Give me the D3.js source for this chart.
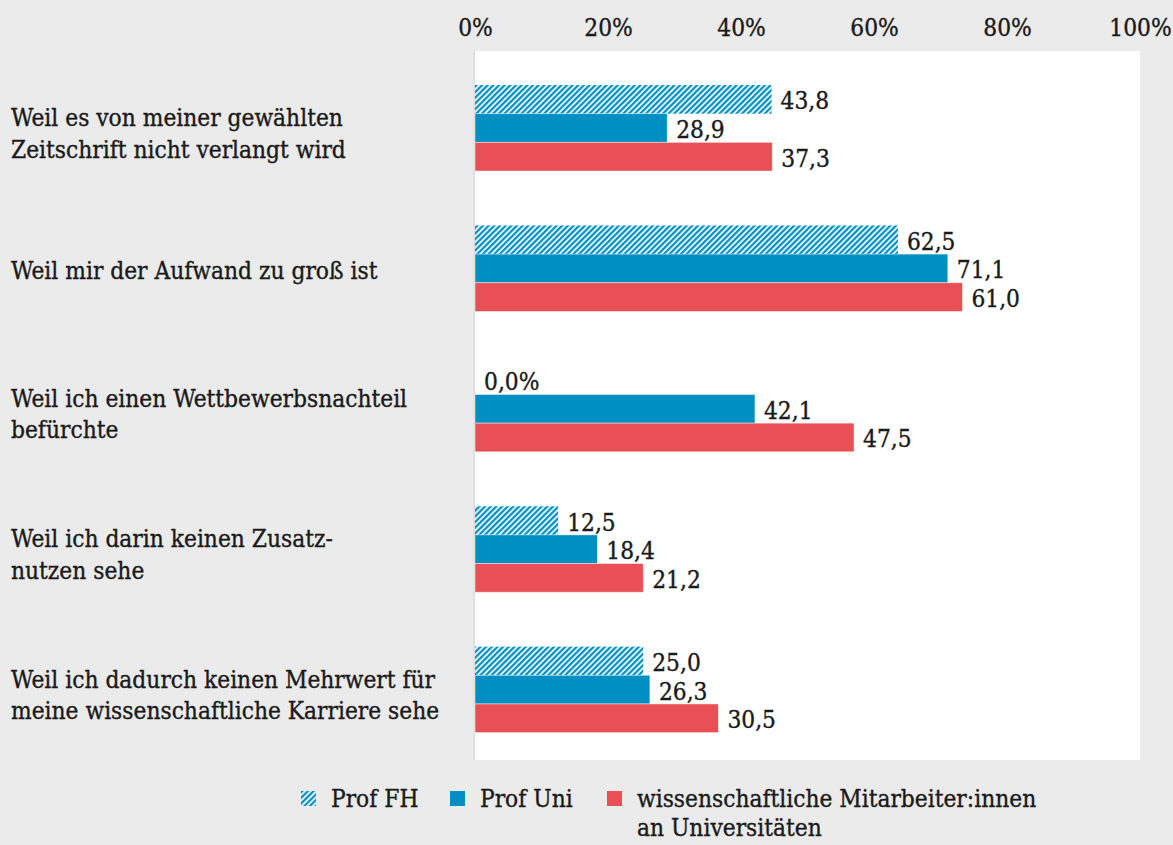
<!DOCTYPE html>
<html>
<head>
<meta charset="utf-8">
<script src="https://cdn.jsdelivr.net/npm/d3@7"></script>
<style>
  html, body { margin: 0; padding: 0; background: #ebebeb; }
  svg { display: block; }
  text { font-family: "DejaVu Serif Condensed", "DejaVu Serif", serif; font-stretch: condensed; fill: #1a1a1a; stroke: #1a1a1a; stroke-width: 0.35px; }
</style>
</head>
<body>
<svg id="chart" width="1173" height="845"></svg>
<script>
// ---- data ----
const categories = [
  ["Weil es von meiner gewählten", "Zeitschrift nicht verlangt wird"],
  ["Weil mir der Aufwand zu groß ist"],
  ["Weil ich einen Wettbewerbsnachteil", "befürchte"],
  ["Weil ich darin keinen Zusatz-", "nutzen sehe"],
  ["Weil ich dadurch keinen Mehrwert für", "meine wissenschaftliche Karriere sehe"]
];
const seriesNames = ["Prof FH", "Prof Uni", "wissenschaftliche Mitarbeiter:innen|an Universitäten"];
// bar lengths as drawn in the picture (percent)
const profFH  = [44.6, 63.6, 0.0, 12.5, 25.3];
const profUni = [28.9, 71.1, 42.1, 18.4, 26.3];
const wiMi    = [44.7, 73.3, 57.0, 25.3, 36.6];
// value labels as printed
const profFHLabels  = ["43,8", "62,5", "0,0%", "12,5", "25,0"];
const profUniLabels = ["28,9", "71,1", "42,1", "18,4", "26,3"];
const wiMiLabels    = ["37,3", "61,0", "47,5", "21,2", "30,5"];
const tickValues = [0, 20, 40, 60, 80, 100];
const tickLabels = ["0%", "20%", "40%", "60%", "80%", "100%"];

// ---- layout ----
const W = 1173, H = 845;
const panel = { x0: 475, x1: 1140, y0: 51, y1: 760 };
const colors = { fhBlue: "#0090c4", uni: "#008fc2", red: "#e95056", bg: "#ebebeb" };

const svg = d3.select("#chart");
svg.append("rect").attr("width", W).attr("height", H).attr("fill", colors.bg);

// choose font size so the first category line is as wide as in the reference (~332px)
const probe = svg.append("text").style("font-size", "20px").text(categories[0][0]);
const pw = probe.node().getComputedTextLength();
probe.remove();
const fontSize = Math.max(18, Math.min(30, 20 * 332 / (pw || 332)));

const defs = svg.append("defs");
const pat = defs.append("pattern")
  .attr("id", "hatch").attr("patternUnits", "userSpaceOnUse")
  .attr("width", 4).attr("height", 4)
  .attr("patternTransform", "rotate(45)");
pat.append("rect").attr("width", 4).attr("height", 4).attr("fill", "#ffffff");
pat.append("rect").attr("width", 2.3).attr("height", 4).attr("fill", colors.fhBlue);

// panel
svg.append("rect")
  .attr("x", panel.x0).attr("y", panel.y0)
  .attr("width", panel.x1 - panel.x0).attr("height", panel.y1 - panel.y0)
  .attr("fill", "#ffffff");
svg.append("line")
  .attr("x1", panel.x0 - 0.75).attr("x2", panel.x0 - 0.75)
  .attr("y1", panel.y0).attr("y2", panel.y1)
  .attr("stroke", "#dcdcdc").attr("stroke-width", 1.5);

const x = d3.scaleLinear().domain([0, 100]).range([panel.x0, panel.x1]);
const y = d3.scaleBand().domain(d3.range(categories.length))
  .range([panel.y0, panel.y1]).paddingInner(0.3875).paddingOuter(0.2187).align(0.554);
const yi = d3.scaleBand().domain([0, 1, 2]).range([0, y.bandwidth()]);

// top axis
const axis = d3.axisTop(x).tickValues(tickValues)
  .tickFormat((d, i) => tickLabels[i]).tickSize(0).tickPadding(0);
const gAxis = svg.append("g").attr("transform", "translate(0,36)").call(axis);
gAxis.select(".domain").remove();
gAxis.attr("font-family", null).attr("font-size", null);
gAxis.selectAll("text")
  .attr("dy", 0)
  .style("font-size", fontSize + "px")
  .attr("fill", "#1a1a1a");

// bars
const series = [
  { vals: profFH, labels: profFHLabels, fill: "url(#hatch)", stroke: "none" },
  { vals: profUni, labels: profUniLabels, fill: colors.uni, stroke: "rgba(255,255,255,0.55)" },
  { vals: wiMi, labels: wiMiLabels, fill: colors.red, stroke: "rgba(255,255,255,0.55)" }
];

series.forEach((s, si) => {
  const g = svg.append("g");
  g.selectAll("rect").data(s.vals).join("rect")
    .attr("x", x(0))
    .attr("y", (d, i) => y(i) + yi(si))
    .attr("width", d => x(d) - x(0))
    .attr("height", yi.bandwidth())
    .attr("fill", s.fill)
    .attr("stroke", s.stroke).attr("stroke-width", 0.8);
  g.selectAll("text").data(s.vals).join("text")
    .attr("x", d => x(d) + 9)
    .attr("y", (d, i) => y(i) + yi(si) + yi.bandwidth() / 2 + 10)
    .style("font-size", fontSize + "px")
    .text((d, i) => s.labels[i]);
});

// category labels
const lineH = 31.5;
categories.forEach((lines, i) => {
  const cy = y(i) + y.bandwidth() / 2;
  const first = cy + 11 - (lines.length - 1) * 13;
  const t = svg.append("text").attr("x", 11).attr("y", first).style("font-size", fontSize + "px");
  lines.forEach((ln, k) => {
    t.append("tspan").attr("x", 11).attr("y", first + k * lineH).text(ln);
  });
});

// legend
const legendItems = [
  { name: seriesNames[0], fill: "url(#hatch)", x: 301 },
  { name: seriesNames[1], fill: colors.uni, x: 450 },
  { name: seriesNames[2], fill: colors.red, x: 607 }
];
const legY = 791;
const legLineH = 29;
legendItems.forEach(it => {
  svg.append("rect").attr("x", it.x).attr("y", legY).attr("width", 15).attr("height", 15).attr("fill", it.fill);
  const t = svg.append("text").attr("x", it.x + 30).attr("y", legY + 16).style("font-size", fontSize + "px");
  it.name.split("|").forEach((ln, k) => {
    t.append("tspan").attr("x", it.x + 30).attr("y", legY + 16 + k * legLineH).text(ln);
  });
});
</script>
</body>
</html>
